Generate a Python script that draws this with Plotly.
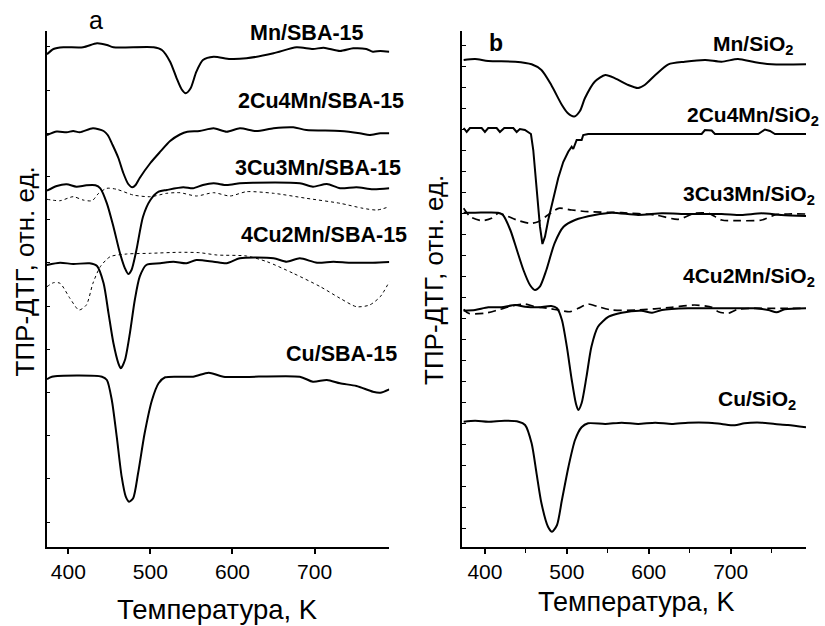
import plotly.graph_objects as go

FONT = "Liberation Sans, Arial, sans-serif"

# ---------------- Panel a (SBA-15) : temperature in K, signal in a.u. ----------------
T_Mn_SBA = [374, 382, 394, 418, 435, 447, 455, 504, 514, 524, 532, 538, 543, 549, 556, 564, 577, 597, 617, 650, 678, 698, 711, 731, 747, 763, 771, 780, 791]
Y_Mn_SBA = [492.7, 498, 499.7, 499.7, 503.7, 502, 499.7, 499.7, 497, 485.3, 468.7, 457.7, 453.7, 458.7, 475.3, 487, 490.3, 488, 488.7, 493.7, 499.7, 498, 499.3, 496, 498.7, 498, 495.3, 496, 495.3]

T_2Cu4Mn_SBA = [374, 386, 398, 406, 414, 430, 443, 448, 454, 461, 467, 473, 478, 482, 487, 500, 512, 524, 536, 545, 560, 577, 593, 609, 629, 650, 674, 690, 731, 755, 767, 780, 791]
Y_2Cu4Mn_SBA = [412, 415.5, 414.7, 416, 414.7, 418.7, 416, 412, 402, 389, 374, 363, 359.7, 362, 369, 384, 395.3, 406, 412.5, 415.3, 416, 418.7, 415.3, 418.7, 416, 418.7, 419.7, 417, 416, 413.7, 412, 413.7, 413.7]

T_3Cu3Mn_SBA = [374, 386, 398, 410, 422, 433, 439, 447, 455, 463, 469, 473, 477, 483, 491, 500, 510, 520, 540, 552, 564, 577, 593, 609, 625, 682, 698, 715, 731, 751, 771, 791]
Y_3Cu3Mn_SBA = [356.3, 361, 362.7, 360.3, 361.7, 361.7, 358.7, 343.7, 320.3, 293.7, 278.7, 273, 277, 297, 330.3, 347, 355.3, 357, 359.7, 358.7, 362, 363.7, 362, 363.7, 364.3, 363.7, 360.3, 363, 358.7, 359.7, 357.7, 358.7]

T_3Cu3Mn_SBA_ref = [374, 390, 406, 418, 429, 437, 447, 459, 479, 500, 520, 536, 556, 577, 597, 617, 650, 690, 731, 759, 776, 791]
Y_3Cu3Mn_SBA_ref = [347.7, 346.3, 350.3, 347, 346.3, 353.7, 358.7, 357.7, 352, 350.3, 353.7, 354.3, 351, 354.3, 351, 355.3, 353.7, 348.7, 343.7, 338.7, 337, 340.3]

T_4Cu2Mn_SBA = [374, 390, 406, 426, 435, 443, 449, 455, 461, 464, 469, 475, 481, 487, 495, 512, 528, 544, 556, 577, 593, 609, 650, 666, 682, 703, 723, 743, 771, 791]
Y_4Cu2Mn_SBA = [282, 284.3, 283, 283.7, 281, 263.7, 233.7, 203.7, 183.7, 178.7, 187, 213.7, 247, 270.3, 282, 283.7, 285.3, 283.7, 287, 285.3, 283.7, 288.7, 288.7, 285.3, 288.7, 284.3, 285.3, 284.3, 284.3, 285]

T_4Cu2Mn_SBA_ref = [374, 382, 390, 402, 413, 422, 430, 439, 451, 471, 500, 536, 560, 581, 617, 642, 674, 707, 731, 751, 767, 780, 791]
Y_4Cu2Mn_SBA_ref = [260.3, 264.3, 263.7, 248.7, 237, 242, 263.7, 280.3, 290.3, 293, 293.7, 294.7, 294.3, 292, 291, 285.3, 273.7, 260.3, 248.7, 240.3, 242, 250.3, 265.3]

T_Cu_SBA = [374, 380, 441, 447, 453, 459, 465, 470, 474, 479, 485, 493, 502, 510, 518, 552, 571, 589, 682, 698, 715, 731, 751, 771, 780, 791]
Y_Cu_SBA = [167.7, 170.3, 170.3, 167, 147, 110.3, 70.3, 50.3, 45.3, 48.7, 73.7, 113.7, 147, 163.7, 169.7, 170.3, 174.3, 170.3, 170.3, 165.3, 167, 163.7, 161, 155.3, 154.3, 157.7]

# ---------------- Panel b (SiO2) ----------------
T_Mn_Si = [374, 388, 404, 437, 457, 469, 481, 494, 501, 509, 516, 522, 534, 547, 559, 575, 587, 595, 608, 624, 644, 669, 689, 709, 730, 750, 792]
Y_Mn_Si = [487, 488, 486, 485.3, 482.7, 477, 462, 442, 434, 430.5, 436, 448.7, 465.3, 472, 468.7, 462, 459, 462, 472, 482.7, 485.3, 487, 485.3, 488, 484.7, 482.7, 482.7]

T_2Cu4Mn_Si = [374, 377.7, 381.7, 396, 400, 404, 414.3, 418.3, 423.6, 434.6, 438.7, 442.7, 448.8, 453.7, 456.2, 459, 463.1, 467.2, 470.2, 473.3, 477.3, 483.4, 489.5, 495.6, 501.7, 505.9, 507.8, 512, 518.1, 520, 526.1, 664.6, 668.6, 676.8, 680.8, 733.7, 741.9, 748, 754.1, 792]
Y_2Cu4Mn_Si = [419, 415, 419, 419, 415, 419, 419, 415, 419, 419, 415, 418, 417, 414, 413, 397, 362, 320.3, 303, 310.3, 327, 349, 369, 385, 395.3, 400.3, 398, 407, 407, 412, 413, 413, 417, 416.5, 413, 413, 417.5, 416, 413, 413]

T_3Cu3Mn_Si = [374, 388, 416, 422, 431, 439, 447, 455, 461, 467, 475, 485, 496, 510, 534, 555, 587, 616, 648, 689, 713, 738, 762, 792]
Y_3Cu3Mn_Si = [334.3, 334.3, 334.3, 332, 317, 297, 277, 262, 257, 260.3, 277, 303.7, 320.3, 327, 332, 334.3, 332, 333.7, 333, 333, 332, 333.7, 332, 331]

T_3Cu3Mn_Si_ref = [374, 382, 396, 408, 416, 424, 439, 455, 465, 477, 490, 506, 526, 567, 608, 636, 656, 673, 689, 709, 738, 754, 770, 792]
Y_3Cu3Mn_Si_ref = [338.7, 330.3, 326.3, 328.7, 333.7, 332, 327, 323.7, 325.3, 332, 338.7, 337, 335.3, 334.3, 332, 327.7, 333.7, 333.7, 327, 326.3, 327, 332, 333, 333]

T_4Cu2Mn_Si = [374, 388, 404, 420, 437, 449, 465, 481, 488, 494, 500, 506, 511, 514, 518, 524, 530, 538, 551, 567, 591, 604, 616, 648, 689, 730, 746, 756, 766, 792]
Y_4Cu2Mn_Si = [236.3, 237, 239.7, 239.7, 242, 240.3, 239.7, 241, 238.7, 227, 200.3, 167, 143.7, 137, 143.7, 170.3, 200.3, 220.3, 230.3, 234.3, 236.3, 234.3, 237, 238.7, 238.7, 238.7, 237, 234.7, 237.7, 238.7]

T_4Cu2Mn_Si_ref = [374, 380, 400, 416, 433, 449, 461, 477, 494, 504, 514, 526, 538, 555, 587, 628, 656, 677, 685, 697, 709, 770, 792]
Y_4Cu2Mn_Si_ref = [237.7, 233.7, 233.7, 237, 241, 243, 240.3, 238.7, 236.3, 235.3, 238.7, 243, 240.3, 237, 237, 239.7, 242, 239.7, 235.3, 233.7, 237.7, 238.7, 238.7]

T_Cu_Si = [374, 388, 404, 424, 441, 449, 457, 463, 469, 477, 482, 488, 494, 502, 510, 518, 526, 547, 567, 587, 608, 628, 648, 673, 689, 705, 717, 738, 754, 770, 792]
Y_Cu_Si = [125.3, 126.3, 125.3, 126.3, 125.3, 122, 103.7, 73.7, 43.7, 20.3, 15.3, 22, 47, 80.3, 107, 119.7, 123.7, 123, 124.3, 123, 124.3, 123, 124.3, 124.3, 123, 121.7, 123.7, 124.3, 123, 122, 119.7]

labels_a = ["Mn/SBA-15", "2Cu4Mn/SBA-15", "3Cu3Mn/SBA-15", "4Cu2Mn/SBA-15", "Cu/SBA-15"]
labels_b = ["Mn/SiO<sub>2</sub>", "2Cu4Mn/SiO<sub>2</sub>", "3Cu3Mn/SiO<sub>2</sub>",
            "4Cu2Mn/SiO<sub>2</sub>", "Cu/SiO<sub>2</sub>"]
x_ticks = [400, 500, 600, 700]
x_title = "Температура, K"
y_title = "ТПР-ДТГ, отн. ед."

fig = go.Figure()

def add(x, y, axis, dash="solid", width=2, shape="spline"):
    xa, ya = ("x", "y") if axis == 1 else ("x2", "y2")
    fig.add_trace(go.Scatter(x=x, y=y, xaxis=xa, yaxis=ya, mode="lines",
                             line=dict(color="black", width=width, dash=dash,
                                       shape=shape, smoothing=0.7 if shape == "spline" else None),
                             showlegend=False, hoverinfo="skip"))

add(T_Mn_SBA, Y_Mn_SBA, 1)
add(T_2Cu4Mn_SBA, Y_2Cu4Mn_SBA, 1)
add(T_3Cu3Mn_SBA_ref, Y_3Cu3Mn_SBA_ref, 1, dash="3px,3px", width=1)
add(T_3Cu3Mn_SBA, Y_3Cu3Mn_SBA, 1)
add(T_4Cu2Mn_SBA_ref, Y_4Cu2Mn_SBA_ref, 1, dash="3px,3px", width=1)
add(T_4Cu2Mn_SBA, Y_4Cu2Mn_SBA, 1)
add(T_Cu_SBA, Y_Cu_SBA, 1)

add(T_Mn_Si, Y_Mn_Si, 2)
add(T_2Cu4Mn_Si, Y_2Cu4Mn_Si, 2, shape="linear")
add(T_3Cu3Mn_Si_ref, Y_3Cu3Mn_Si_ref, 2, dash="8px,5px", width=1.7)
add(T_3Cu3Mn_Si, Y_3Cu3Mn_Si, 2)
add(T_4Cu2Mn_Si_ref, Y_4Cu2Mn_Si_ref, 2, dash="8px,5px", width=1.7)
add(T_4Cu2Mn_Si, Y_4Cu2Mn_Si, 2)
add(T_Cu_Si, Y_Cu_Si, 2)

W, H = 825, 626
def px(x):
    return x / W
def py(y):
    return 1 - y / H

xcommon = dict(showline=True, linecolor="black", linewidth=1.5, showgrid=False, zeroline=False,
               ticks="outside", ticklen=5, tickwidth=1.5, tickcolor="black",
               tickmode="array", tickvals=x_ticks, ticktext=[str(v) for v in x_ticks],
               tickfont=dict(family=FONT, size=21, color="black"))
ycommon = dict(showline=True, linecolor="black", linewidth=1.5, showgrid=False, zeroline=False,
               ticks="inside", ticklen=4, tickwidth=1, tickcolor="black",
               showticklabels=False, range=[0, 516], tickmode="linear")

fig.update_layout(
    width=W, height=H, margin=dict(l=0, r=0, t=0, b=0),
    paper_bgcolor="white", plot_bgcolor="white",
    xaxis=dict(xcommon, domain=[px(46.7), px(389.3)], range=[373.7, 791], anchor="y"),
    yaxis=dict(ycommon, domain=[py(547), py(31)], tick0=25, dtick=43.2, anchor="x"),
    xaxis2=dict(xcommon, domain=[px(462), px(806)], range=[372, 792], anchor="y2",
                minor=dict(ticks="outside", ticklen=4, tickwidth=1, tickcolor="black",
                           tickmode="array", tickvals=[450, 550, 650, 750])),
    yaxis2=dict(ycommon, domain=[py(547), py(31)], tick0=18.3, dtick=21, anchor="x2"),
)

ann = []
def text(x, y, s, size, bold=False, angle=0):
    ann.append(dict(xref="paper", yref="paper", x=px(x), y=py(y), text=("<b>%s</b>" % s) if bold else s,
                    showarrow=False, xanchor="center", yanchor="middle", textangle=angle,
                    font=dict(family=FONT, size=size, color="black")))

pos_a = [(306.7, 33.3), (321.3, 100.7), (317.5, 168.3), (324, 235), (341.7, 354)]
for (x, y), s in zip(pos_a, labels_a):
    text(x, y, s, 21.5, bold=True)
pos_b = [(753, 44.5), (753, 116), (749, 194.5), (749, 277), (756.5, 400)]
for (x, y), s in zip(pos_b, labels_b):
    text(x, y, s, 21, bold=True)

text(96, 20, "a", 25)
text(496, 43, "b", 23, bold=True)
text(218, 609, x_title, 27.5)
text(636.5, 602, x_title, 27)
text(24, 271.5, y_title, 26, angle=-90)
text(434, 280, y_title, 26, angle=-90)

fig.update_layout(annotations=ann)
fig.write_html("out.html")
